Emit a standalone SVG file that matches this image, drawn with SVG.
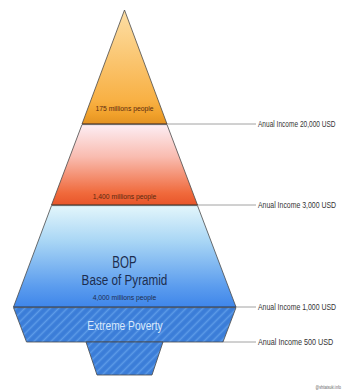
<svg xmlns="http://www.w3.org/2000/svg" width="344" height="392" viewBox="0 0 344 392">
  <style>
    .edge { stroke: #4a4a4a; stroke-width: 0.8; }
    .sep { stroke: #6b3a1e; stroke-width: 1.2; }
    .lead { stroke: #8a8a8a; stroke-width: 0.8; fill: none; }
    .income { font-family: "Liberation Sans", Arial, sans-serif; font-size: 9.5px; fill: #333333; }
    .count { font-family: "Liberation Sans", Arial, sans-serif; font-size: 8px; fill: #5a2a10; }
    .title { font-family: "Liberation Sans", Arial, sans-serif; fill: #1c2d4f; text-anchor: middle; }
  </style>
  <defs>
    <linearGradient id="gTop" x1="0" y1="0" x2="0" y2="1">
      <stop offset="0" stop-color="#fddfa6"/>
      <stop offset="0.8" stop-color="#f8b043"/>
      <stop offset="0.92" stop-color="#f0a02a"/>
      <stop offset="1" stop-color="#e39222"/>
    </linearGradient>
    <linearGradient id="gMid" x1="0" y1="0" x2="0" y2="1">
      <stop offset="0" stop-color="#fdeef4"/>
      <stop offset="0.4" stop-color="#f9bcb0"/>
      <stop offset="0.85" stop-color="#f06a3c"/>
      <stop offset="1" stop-color="#e8552a"/>
    </linearGradient>
    <linearGradient id="gBase" x1="0" y1="0" x2="0" y2="1">
      <stop offset="0" stop-color="#e3f6fb"/>
      <stop offset="0.35" stop-color="#a9d6f5"/>
      <stop offset="0.8" stop-color="#5b9cee"/>
      <stop offset="1" stop-color="#3f86ea"/>
    </linearGradient>
    <pattern id="hatch" width="6" height="6" patternUnits="userSpaceOnUse" patternTransform="rotate(45)">
      <rect width="6" height="6" fill="#3b7dd8"/>
      <line x1="1.5" y1="0" x2="1.5" y2="6" stroke="#5d9be8" stroke-width="1.6"/>
    </pattern>
  </defs>

  <rect width="344" height="392" fill="#ffffff"/>

  <!-- leader lines to income labels -->
  <g id="connectors">
    <line class="lead" x1="167" y1="124" x2="256" y2="124"/>
    <line class="lead" x1="197" y1="205" x2="256" y2="205"/>
    <line class="lead" x1="236" y1="307" x2="256" y2="307"/>
    <line class="lead" x1="223" y1="342" x2="256" y2="342"/>
  </g>

  <g id="tier-top">
    <polygon points="124.5,10 167,124 82,124" fill="url(#gTop)" class="edge"/>
    <line class="sep" x1="82" y1="124" x2="167" y2="124"/>
    <text class="count" transform="translate(124.5,111) scale(0.85,1)" text-anchor="middle">175 millions people</text>
  </g>

  <g id="tier-middle">
    <polygon points="82,124.6 167,124.6 197.5,205 51.5,205" fill="url(#gMid)" class="edge"/>
    <line class="sep" x1="51.5" y1="205" x2="197.5" y2="205"/>
    <text class="count" transform="translate(124.5,199) scale(0.85,1)" text-anchor="middle">1,400 millions people</text>
  </g>

  <g id="tier-base">
    <polygon points="51.5,205.6 197.5,205.6 236,307 13.5,307" fill="url(#gBase)" class="edge"/>
    <line x1="13.5" y1="307" x2="236" y2="307" stroke="#2a4f86" stroke-width="1.2"/>
    <text class="title" transform="translate(124.5,268) scale(0.72,1)" font-size="16">BOP</text>
    <text class="title" transform="translate(124.5,285) scale(0.78,1)" font-size="15">Base of Pyramid</text>
    <text class="count" transform="translate(124.5,300) scale(0.85,1)" text-anchor="middle" style="fill:#1c2d4f">4,000 millions people</text>
  </g>

  <g id="tier-extreme">
    <polygon points="13.5,307.6 236,307.6 223,342 26.5,342" fill="url(#hatch)" class="edge"/>
    <text transform="translate(125,330) scale(0.85,1)" text-anchor="middle" font-family="Liberation Sans, Arial, sans-serif" font-size="12" fill="#d9e9fc">Extreme Poverty</text>
  </g>

  <g id="tier-root">
    <polygon points="86,342 163,342 152,375 97,375" fill="url(#hatch)" class="edge"/>
  </g>

  <!-- income labels, horizontally condensed -->
  <g id="income-labels">
    <text class="income" transform="translate(258,127) scale(0.69,1)">Anual Income 20,000 USD</text>
    <text class="income" transform="translate(258,208) scale(0.73,1)">Anual Income 3,000 USD</text>
    <text class="income" transform="translate(258,310) scale(0.73,1)">Anual Income 1,000 USD</text>
    <text class="income" transform="translate(258,345) scale(0.76,1)">Anual Income 500 USD</text>
  </g>

  <text transform="translate(341,389) scale(0.8,1)" text-anchor="end" font-family="Liberation Sans, Arial, sans-serif" font-size="4.5" fill="#666666">@shitatsuki.info</text>
</svg>
